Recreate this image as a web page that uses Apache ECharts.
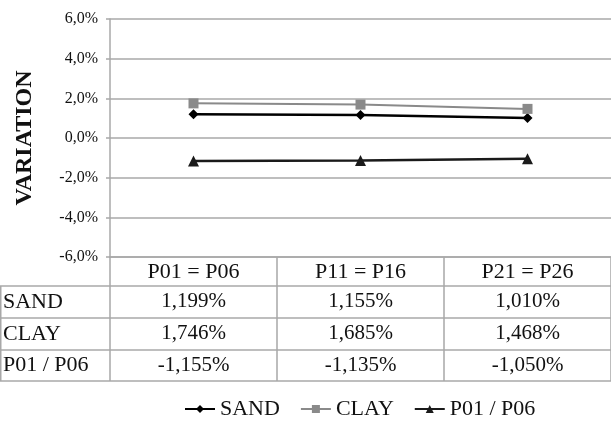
<!DOCTYPE html>
<html>
<head>
<meta charset="utf-8">
<script src="https://cdn.jsdelivr.net/npm/echarts@6/dist/echarts.min.js"></script>
<style>
  html, body { margin: 0; padding: 0; background: #fff; }
  #chart { width: 611px; height: 432px; }
</style>
</head>
<body>
<div id="chart"></div>
<script>
const categories = ['P01 = P06', 'P11 = P16', 'P21 = P26'];
const seriesNames = ['SAND', 'CLAY', 'P01 / P06'];
const sand = [1.199, 1.155, 1.010];
const clay = [1.746, 1.685, 1.468];
const p01p06 = [-1.155, -1.135, -1.050];
const yTicks = { min: -6, max: 6, step: 2 };

const serif = 'Liberation Serif';
const gridColor = '#a8a8a8';
const fmtPct = (v, d) => v.toFixed(d).replace('.', ',') + '%';

const tableRows = [sand, clay, p01p06];
const rowTop = 257;
const rowLines = [286, 318, 350, 381];

const chart = echarts.init(document.getElementById('chart'), null, { renderer: 'canvas' });

// one category axis per table row, stacked under the plot
const tableAxes = tableRows.map((vals, i) => ({
  type: 'category',
  position: 'bottom',
  offset: rowLines[i] - rowTop,
  data: vals.map(v => fmtPct(v, 3)),
  axisLine: { show: false, onZero: false },
  axisTick: { show: false },
  axisLabel: { margin: 5, fontFamily: serif, fontSize: 21, color: '#111' }
}));

const graphics = [];
rowLines.forEach(y => {
  graphics.push({
    type: 'line',
    shape: { x1: 0, y1: y, x2: 611, y2: y },
    style: { stroke: gridColor, lineWidth: 1.5 }
  });
});
graphics.push({
  type: 'line',
  shape: { x1: 0.75, y1: rowLines[0], x2: 0.75, y2: rowLines[3] },
  style: { stroke: gridColor, lineWidth: 1.5 }
});
seriesNames.forEach((name, i) => {
  graphics.push({
    type: 'text',
    left: 3,
    top: (rowLines[i] + rowLines[i + 1]) / 2 - 11,
    style: { text: name, font: '22px ' + serif, fill: '#111' }
  });
});

chart.setOption({
  animation: false,
  grid: { left: 110, top: 19, width: 510, height: 238 },
  xAxis: [{
    type: 'category',
    data: categories,
    axisLine: { show: true, onZero: false, lineStyle: { color: gridColor, width: 1.5 } },
    axisTick: { show: true, length: rowLines[3] - rowTop, lineStyle: { color: gridColor, width: 1.5 } },
    axisLabel: { margin: 4, fontFamily: serif, fontSize: 22, color: '#111' }
  }].concat(tableAxes),
  yAxis: {
    type: 'value',
    min: yTicks.min,
    max: yTicks.max,
    interval: yTicks.step,
    name: 'VARIATION',
    nameLocation: 'middle',
    nameGap: 73,
    nameTextStyle: { fontFamily: serif, fontSize: 24, fontWeight: 'bold', color: '#111' },
    axisLine: { show: true, lineStyle: { color: gridColor, width: 1.5 } },
    axisTick: { show: true, length: 4, lineStyle: { color: gridColor, width: 1.5 } },
    splitLine: { lineStyle: { color: gridColor, width: 1.5 } },
    axisLabel: {
      margin: 12, fontFamily: serif, fontSize: 16, color: '#111',
      formatter: v => fmtPct(v, 1)
    }
  },
  legend: {
    left: 179,
    top: 393,
    itemWidth: 30,
    itemHeight: 10,
    itemGap: 20,
    textStyle: { fontFamily: serif, fontSize: 22, color: '#111' },
    data: seriesNames
  },
  series: [
    {
      name: seriesNames[0], type: 'line', data: sand,
      symbol: 'diamond', symbolSize: 10,
      lineStyle: { color: '#000', width: 2.5 },
      itemStyle: { color: '#000' }
    },
    {
      name: seriesNames[1], type: 'line', data: clay,
      symbol: 'rect', symbolSize: 10,
      lineStyle: { color: '#8a8a8a', width: 2 },
      itemStyle: { color: '#8a8a8a' }
    },
    {
      name: seriesNames[2], type: 'line', data: p01p06,
      symbol: 'triangle', symbolSize: 11,
      lineStyle: { color: '#1a1a1a', width: 2.5 },
      itemStyle: { color: '#1a1a1a' }
    }
  ],
  graphic: graphics
});
</script>
</body>
</html>
